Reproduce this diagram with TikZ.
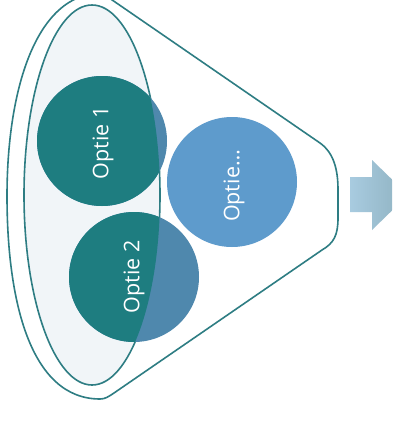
\documentclass[tikz,border=0pt]{standalone}
\usepackage{fontspec}
\setmainfont{Open Sans}
\definecolor{lineteal}{HTML}{2E7D83}
\definecolor{teal1}{HTML}{1E7D80}
\definecolor{steel}{HTML}{4F88AD}
\definecolor{lightblue}{HTML}{5E9BCC}
\definecolor{ellfill}{HTML}{F1F5F8}
\definecolor{arrL}{HTML}{A8CBE0}
\definecolor{arrR}{HTML}{8EB1BF}
\tikzset{
  outline/.style={draw=lineteal, line width=1.6pt},
  lbl/.style={text=white, rotate=90, font=\fontsize{21.5}{26}\selectfont, inner sep=0pt},
}
\begin{document}
\begin{tikzpicture}[x=1pt,y=-1pt]
\clip (0,0) rectangle (392,423);
\fill[white] (0,0) rectangle (392,423);
% funnel
\path[outline, fill=white] (102,-7) -- (320,143)
  .. controls (334,153) and (338,170) .. (338,190) -- (338,218)
  .. controls (338,235) and (334,243) .. (322,250) -- (114,393)
  .. controls (108,397) and (105,399) .. (100,399)
  .. controls (30,399) and (7,300) .. (7,196)
  .. controls (7,92) and (35,-7) .. (102,-7) -- cycle;
% inner ellipse
\path[outline, fill=ellfill] (92,195) ellipse [x radius=68, y radius=190];
% circles
\fill[steel] (102,141) circle [radius=65];
\fill[steel] (134,277) circle [radius=65];
\begin{scope}
  \clip (92,195) ellipse [x radius=68, y radius=190];
  \fill[teal1] (102,141) circle [radius=65];
  \fill[teal1] (134,277) circle [radius=65];
\end{scope}
\fill[lightblue] (232,182) circle [radius=65];
\node[lbl] (o1) at (103,143) {Optie 1};
\node[lbl] (o2) at (134,277) {Optie 2};
\node[lbl] (o3) at (234,186) {Optie…};
% arrow
\shade[left color=arrL, right color=arrR] (350,177) -- (372,177) -- (372,160) -- (408,195) -- (372,230) -- (372,212) -- (350,212) -- cycle;
\end{tikzpicture}
\end{document}
